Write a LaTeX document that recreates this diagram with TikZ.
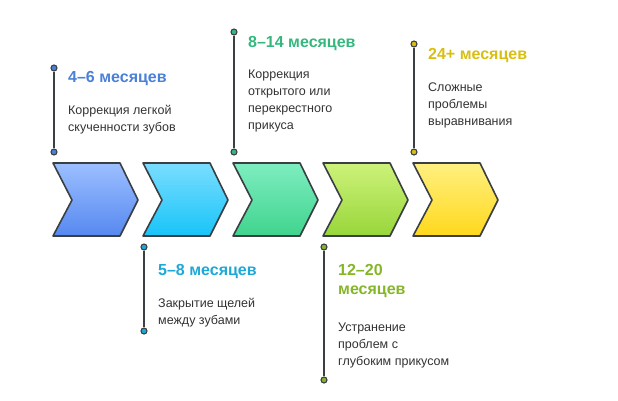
\documentclass[tikz,border=0pt]{standalone}
\usepackage{fontspec}
\setmainfont{Liberation Sans}
\usetikzlibrary{calc}

\definecolor{cA}{HTML}{4A80D8}
\definecolor{cB}{HTML}{1FA8D6}
\definecolor{cC}{HTML}{35B77E}
\definecolor{cD}{HTML}{86B52A}
\definecolor{cE}{HTML}{D9BE12}
\definecolor{edge}{HTML}{3A3F44}

\tikzset{
	chev/.style={draw=edge, line width=1.6pt, line join=round},
	stem/.style={draw=edge, line width=1.4pt},
	dot/.style={circle, draw=edge, line width=1.1pt, inner sep=0pt, minimum size=6pt},
	title/.style={anchor=north west, inner sep=0pt, font=\fontsize{16}{19}\selectfont\bfseries, align=left},
	body/.style={anchor=north west, inner sep=0pt, font=\fontsize{12.5}{17}\selectfont, text=black!80, align=left}
}

\begin{document}
\begin{tikzpicture}[x=1pt,y=-1pt]

	\useasboundingbox (0,0) rectangle (618,400);

	% chevrons
	\foreach \i/\top/\bot in {0/9CBFFF/5688F0, 1/7ADDFF/18C4F8, 2/7EEDC0/40D48E, 3/CDF27A/98D63A, 4/FFF080/FFD81C} {
		\definecolor{tc}{HTML}{\top}
		\definecolor{bc}{HTML}{\bot}
		\pgfmathsetmacro{\x}{53+90*\i}
		\draw[chev, top color=tc, bottom color=bc]
			(\x,163) -- ++(67,0) -- ++(18,37) -- ++(-18,36) -- ++(-67,0) -- ++(19,-36) -- cycle;
	}

	% upper stems
	\node[dot, fill=cA] (t1) at (54,152) {};
	\node[dot, fill=cA] (s1) at (54,68) {};
	\draw[stem] (s1) -- (t1);
	\node[dot, fill=cC] (t3) at (234,152) {};
	\node[dot, fill=cC] (s3) at (234,32) {};
	\draw[stem] (s3) -- (t3);
	\node[dot, fill=cE] (t5) at (414,152) {};
	\node[dot, fill=cE] (s5) at (414,44) {};
	\draw[stem] (s5) -- (t5);

	% lower stems
	\node[dot, fill=cB] (t2) at (144,247) {};
	\node[dot, fill=cB] (s2) at (144,331) {};
	\draw[stem] (t2) -- (s2);
	\node[dot, fill=cD] (t4) at (324,247) {};
	\node[dot, fill=cD] (s4) at (324,380) {};
	\draw[stem] (t4) -- (s4);

	% labels
	\node[title, text=cA] (h1) at (68,71) {4–6 месяцев};
	\node[body] (b1) at (68,105) {Коррекция легкой\\скученности зубов};
	\node[title, text=cB] (h2) at (158,264) {5–8 месяцев};
	\node[body] (b2) at (158,298) {Закрытие щелей\\между зубами};
	\node[title, text=cC] (h3) at (248,36) {8–14 месяцев};
	\node[body] (b3) at (248,70) {Коррекция\\открытого или\\перекрестного\\прикуса};
	\node[title, text=cD] (h4) at (338,264) {12–20\\месяцев};
	\node[body] (b4) at (338,323) {Устранение\\проблем с\\глубоким прикусом};
	\node[title, text=cE] (h5) at (428,48) {24+ месяцев};
	\node[body] (b5) at (428,83) {Сложные\\проблемы\\выравнивания};

\end{tikzpicture}
\end{document}
